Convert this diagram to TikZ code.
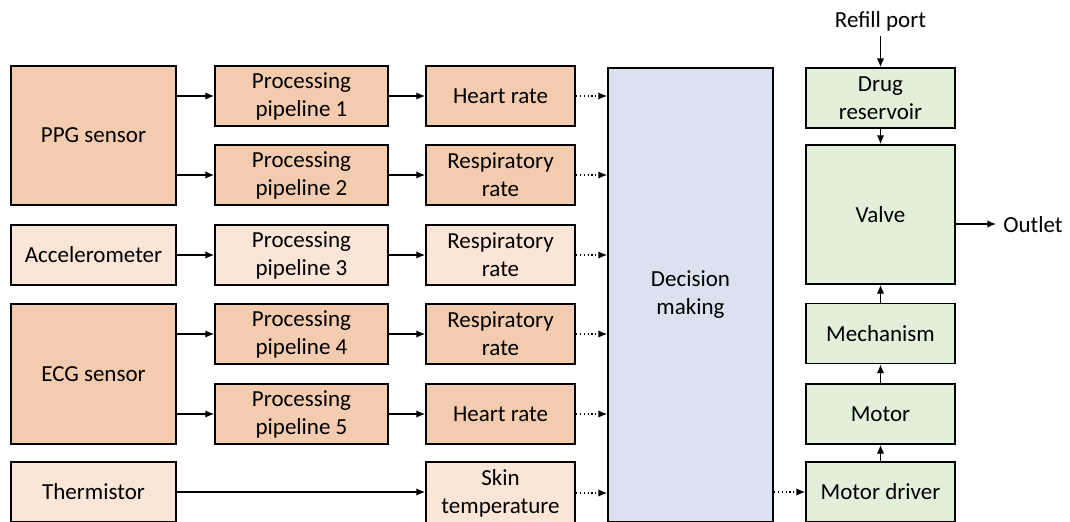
\documentclass[tikz,border=0pt]{standalone}
\usepackage{fontspec}
\setmainfont{Carlito}
\usetikzlibrary{arrows.meta}
\definecolor{warmdark}{HTML}{F3CBAE}
\definecolor{warmlight}{HTML}{FAE5D6}
\definecolor{decblue}{HTML}{DAE2F0}
\definecolor{actgreen}{HTML}{E2EFDA}
\begin{document}
\begin{tikzpicture}[x=0.75pt,y=-0.75pt,
  every node/.style={font=\fontsize{17.25}{21}\selectfont, align=center, inner sep=0pt},
  blk/.style={draw=black, line width=1.4pt, rectangle, minimum width=#1*0.75pt},
  blk/.default=165,
  hgt/.style={minimum height=#1*0.75pt},
  sensdark/.style={blk=165, fill=warmdark},
  senslight/.style={blk=165, fill=warmlight},
  pipe/.style={blk=173, hgt=60, fill=warmdark},
  pipelight/.style={blk=173, hgt=60, fill=warmlight},
  outdark/.style={blk=149, hgt=60, fill=warmdark},
  outlight/.style={blk=149, hgt=60, fill=warmlight},
  act/.style={blk=149, fill=actgreen},
  arr/.style={line width=0.9pt, -{Latex[length=6.5pt,width=5.5pt]}},
  darr/.style={line width=0.9pt, dotted, -{Latex[length=6.5pt,width=5.5pt]}}]
\useasboundingbox (0,0) rectangle (1070,521);
\clip (0,0) rectangle (1070,521);

% sensors
\node[sensdark, hgt=139] (ppg) at (93.5,135.5) {PPG sensor};
\node[senslight, hgt=60] (acc) at (93.5,255) {Accelerometer};
\node[sensdark, hgt=140] (ecg) at (93.5,374) {ECG sensor};
\node[senslight, hgt=60] (therm) at (93.5,492) {Thermistor};

% processing pipelines
\node[pipe] (p1) at (301.5,96) {Processing\\pipeline 1};
\node[pipe] (p2) at (301.5,175) {Processing\\pipeline 2};
\node[pipelight] (p3) at (301.5,255) {Processing\\pipeline 3};
\node[pipe] (p4) at (301.5,334) {Processing\\pipeline 4};
\node[pipe] (p5) at (301.5,414) {Processing\\pipeline 5};

% extracted signals
\node[outdark] (hr1) at (500.5,96) {Heart rate};
\node[outdark] (rr1) at (500.5,175) {Respiratory\\rate};
\node[outlight] (rr2) at (500.5,255) {Respiratory\\rate};
\node[outdark] (rr3) at (500.5,334) {Respiratory\\rate};
\node[outdark] (hr2) at (500.5,414) {Heart rate};
\node[outlight, hgt=62] (skin) at (500.5,493) {Skin\\temperature};

% decision block
\node[blk=165, hgt=454, fill=decblue] (dec) at (690.5,295) {Decision\\making};

% delivery chain
\node[act, hgt=60] (drug) at (880.5,98) {Drug\\reservoir};
\node[act, hgt=139] (valve) at (880.5,214.5) {Valve};
\node[act, hgt=60] (mech) at (880.5,333.5) {Mechanism};
\node[act, hgt=60] (motor) at (880.5,414) {Motor};
\node[act, hgt=60] (driver) at (880.5,492) {Motor driver};
\node (refill) at (880.5,21) {Refill port};
\coordinate (refillend) at (880.5,36);
\node[anchor=west] (outlet) at (1003,225) {Outlet};
\coordinate (outletend) at (996,224);

% sensor to pipeline links
\draw[arr] (ppg.east |- p1) -- (p1.west);
\draw[arr] (ppg.east |- p2) -- (p2.west);
\draw[arr] (acc.east) -- (p3.west);
\draw[arr] (ecg.east |- p4) -- (p4.west);
\draw[arr] (ecg.east |- p5) -- (p5.west);
\draw[arr] (therm.east) -- (skin.west |- therm.east);

% pipeline to signal links
\draw[arr] (p1.east) -- (hr1.west);
\draw[arr] (p2.east) -- (rr1.west);
\draw[arr] (p3.east) -- (rr2.west);
\draw[arr] (p4.east) -- (rr3.west);
\draw[arr] (p5.east) -- (hr2.west);

% signals into decision making
\foreach \s in {hr1,rr1,rr2,rr3,hr2,skin}
  \draw[darr] (\s.east) -- (dec.west |- \s.east);
\draw[darr] (dec.east |- driver.west) -- (driver.west);

% actuation chain
\draw[arr] (refillend) -- (drug.north);
\draw[arr] (drug.south) -- (valve.north);
\draw[arr] (driver.north) -- (motor.south);
\draw[arr] (motor.north) -- (mech.south);
\draw[arr] (mech.north) -- (valve.south);
\draw[arr] (valve.east |- outletend) -- (outletend);
\end{tikzpicture}
\end{document}
